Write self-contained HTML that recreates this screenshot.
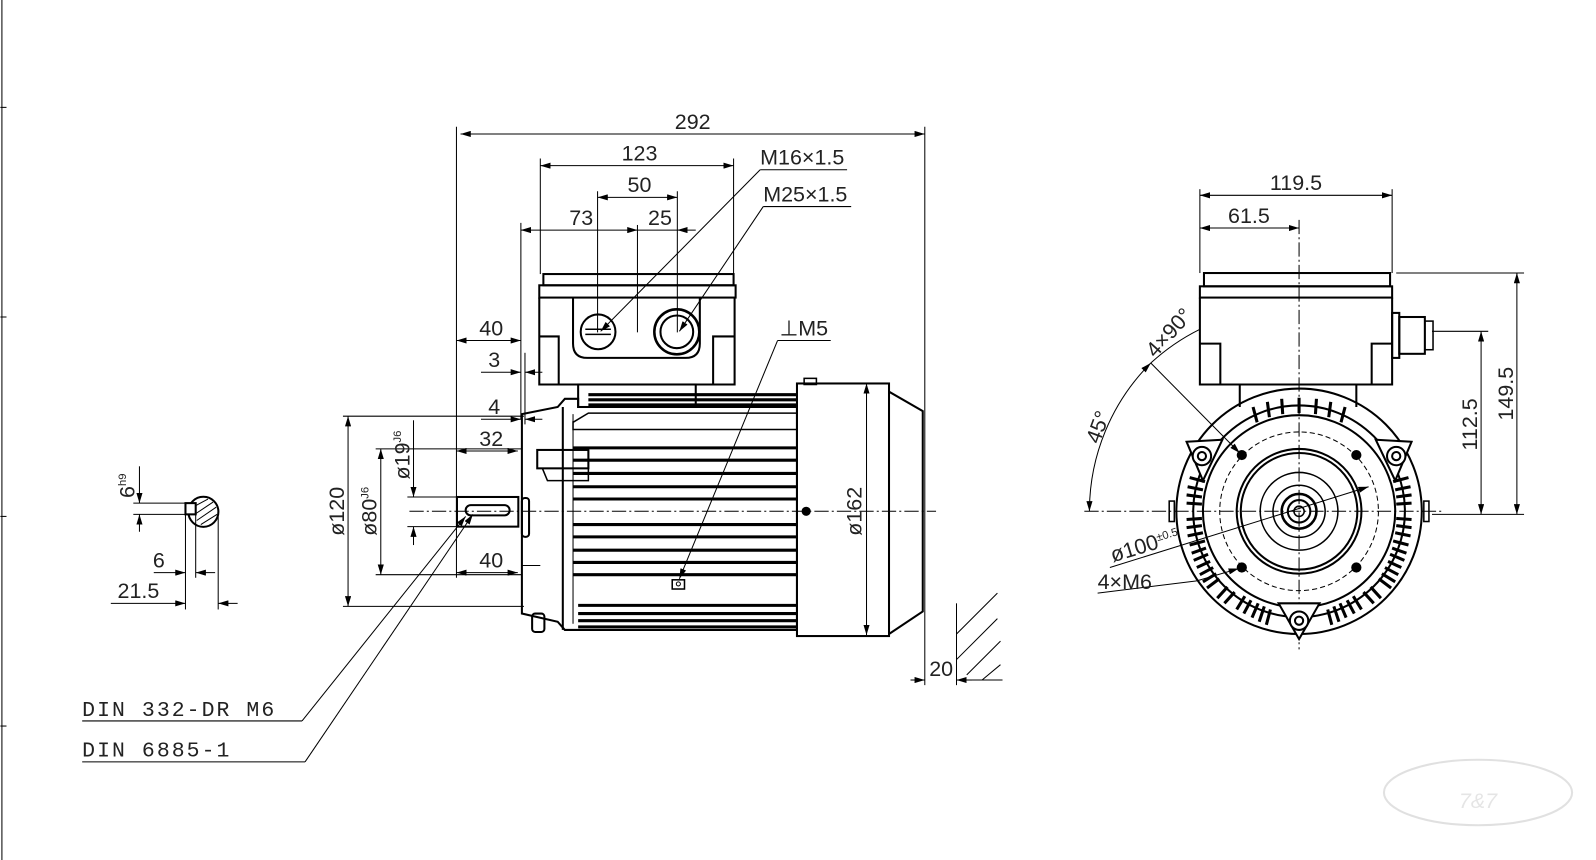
<!DOCTYPE html>
<html><head><meta charset="utf-8"><style>
html,body{margin:0;padding:0;background:#fff;}
svg{display:block}
text{font-family:"Liberation Sans",sans-serif;fill:#222;font-size:21px}
</style></head><body>
<svg width="1596" height="860" viewBox="0 0 1560 841" xmlns="http://www.w3.org/2000/svg">
<defs>
<marker id="a" viewBox="0 0 10 6" refX="10" refY="3" markerWidth="10" markerHeight="6" orient="auto-start-reverse" markerUnits="userSpaceOnUse"><path d="M0,0L10,3L0,6z" fill="#000"/></marker>
</defs>
<g stroke="#000" fill="none" stroke-width="1">
<line x1="1.5" y1="0" x2="1.5" y2="841"/>
<line x1="0" y1="105" x2="6" y2="105"/><line x1="0" y1="310" x2="6" y2="310"/><line x1="0" y1="505" x2="6" y2="505"/><line x1="0" y1="710" x2="6" y2="710"/>

<line x1="400" y1="500" x2="915" y2="500" stroke-dasharray="14,3,2,3"/>

<line x1="450" y1="131" x2="904" y2="131" marker-start="url(#a)" marker-end="url(#a)"/>
<line x1="446" y1="124" x2="446" y2="565"/>
<line x1="904" y1="124" x2="904" y2="670"/>
<line x1="528" y1="162" x2="717" y2="162" marker-start="url(#a)" marker-end="url(#a)"/>
<line x1="528" y1="155" x2="528" y2="268"/>
<line x1="717" y1="155" x2="717" y2="268"/>
<line x1="584" y1="193" x2="662" y2="193" marker-start="url(#a)" marker-end="url(#a)"/>
<line x1="584" y1="187" x2="584" y2="325"/>
<line x1="662" y1="187" x2="662" y2="325"/>
<line x1="509" y1="225" x2="623" y2="225" marker-start="url(#a)" marker-end="url(#a)"/>
<line x1="680" y1="225" x2="662" y2="225" marker-end="url(#a)"/>
<line x1="623" y1="225" x2="662" y2="225"/>
<line x1="509" y1="218" x2="509" y2="410"/>
<line x1="623" y1="220" x2="623" y2="325"/>
<line x1="743" y1="166" x2="828" y2="166"/>
<line x1="743" y1="166" x2="587" y2="324" marker-end="url(#a)"/>
<line x1="746" y1="202" x2="832" y2="202"/>
<line x1="746" y1="202" x2="664" y2="324" marker-end="url(#a)"/>

<rect x="531" y="268" width="186" height="11" stroke-width="2"/>
<rect x="527" y="279" width="192" height="12" stroke-width="2"/>
<path d="M527,291V376H718V291" stroke-width="2"/>
<path d="M527,329H546V376M718,329H697V376" stroke-width="2"/>
<path d="M560,291V336Q560,350 574,350H670Q684,350 684,336V291" stroke-width="2"/>
<circle cx="584.5" cy="324.5" r="17" stroke-width="2"/>
<path d="M572,322H597M572,327H597" stroke-width="1.5"/>
<circle cx="661.5" cy="324.5" r="22" stroke-width="2.5"/>
<circle cx="661.5" cy="324.5" r="16" stroke-width="2"/>
<rect x="565" y="376" width="115" height="22" stroke-width="2"/>

<line x1="446" y1="333" x2="509" y2="333" marker-start="url(#a)" marker-end="url(#a)"/>
<line x1="470" y1="364" x2="509" y2="364" marker-end="url(#a)"/>
<line x1="530" y1="364" x2="513" y2="364" marker-end="url(#a)"/>
<line x1="470" y1="410" x2="509" y2="410" marker-end="url(#a)"/>
<line x1="530" y1="410" x2="513" y2="410" marker-end="url(#a)"/>
<line x1="513" y1="345" x2="513" y2="415"/>

<path d="M510,405L545,398L552,390H565V398H779V616H552L545,608L510,600Z" stroke-width="2"/>
<line x1="550" y1="398" x2="550" y2="616" stroke-width="2"/>
<line x1="560" y1="405" x2="560" y2="610"/>
<g stroke-width="3">
<line x1="575" y1="386" x2="779" y2="386"/><line x1="575" y1="391" x2="779" y2="391"/><line x1="575" y1="396" x2="779" y2="396"/>
<line x1="560" y1="438" x2="779" y2="438"/><line x1="560" y1="450" x2="779" y2="450"/><line x1="560" y1="463" x2="779" y2="463"/>
<line x1="560" y1="476" x2="779" y2="476"/><line x1="560" y1="488" x2="779" y2="488"/><line x1="560" y1="513" x2="779" y2="513"/>
<line x1="560" y1="525" x2="779" y2="525"/><line x1="560" y1="538" x2="779" y2="538"/><line x1="560" y1="550" x2="779" y2="550"/>
<line x1="560" y1="562" x2="779" y2="562"/>
<line x1="565" y1="592" x2="779" y2="592"/><line x1="565" y1="600" x2="779" y2="600"/><line x1="565" y1="607" x2="779" y2="607"/><line x1="565" y1="613" x2="779" y2="613"/>
</g>
<path d="M560,413L575,404H779M560,412V420H779" stroke-width="1.5"/>
<rect x="525" y="440" width="50" height="18" stroke-width="2"/>
<path d="M530,458L535,470H575V440" stroke-width="1.5"/>
<rect x="510" y="487" width="7" height="38" rx="3" stroke-width="2"/>
<rect x="520" y="600" width="12" height="18" rx="3" stroke-width="2"/>
<circle cx="788" cy="500" r="4" fill="#000"/>
<rect x="779" y="375" width="90" height="247" stroke-width="2"/>
<rect x="786" y="370" width="12" height="6" stroke-width="1.5"/>
<path d="M869,383L902,402V598L869,620" stroke-width="2"/>
<line x1="847" y1="375" x2="847" y2="621" marker-start="url(#a)" marker-end="url(#a)"/>
<rect x="657" y="567" width="12" height="9" stroke-width="1.5"/>
<circle cx="663" cy="571" r="2"/>
<line x1="760" y1="333" x2="812" y2="333"/>
<line x1="760" y1="333" x2="664" y2="566" marker-end="url(#a)"/>

<rect x="446.5" y="486" width="60" height="29" stroke-width="2"/>
<rect x="455" y="494" width="43" height="10" rx="5" stroke-width="2"/>
<line x1="404" y1="411" x2="404" y2="486" marker-end="url(#a)"/>
<line x1="404" y1="533" x2="404" y2="515" marker-end="url(#a)"/>
<line x1="398" y1="486" x2="446" y2="486"/><line x1="398" y1="515" x2="446" y2="515"/>
<line x1="340" y1="407" x2="340" y2="593" marker-start="url(#a)" marker-end="url(#a)"/>
<line x1="335" y1="407" x2="512" y2="407"/><line x1="335" y1="593" x2="512" y2="593"/>
<line x1="372" y1="439" x2="372" y2="562" marker-start="url(#a)" marker-end="url(#a)"/>
<line x1="367" y1="439" x2="510" y2="439"/><line x1="367" y1="562" x2="510" y2="562"/>
<line x1="446" y1="441" x2="506" y2="441" marker-start="url(#a)" marker-end="url(#a)"/>
<line x1="446" y1="560" x2="506" y2="560" marker-start="url(#a)" marker-end="url(#a)"/>
<line x1="510" y1="553" x2="528" y2="553"/>

<line x1="80" y1="705" x2="295" y2="705"/><line x1="295" y1="705" x2="455" y2="505" marker-end="url(#a)"/>
<line x1="80" y1="745" x2="298" y2="745"/><line x1="298" y1="745" x2="462" y2="503" marker-end="url(#a)"/>

<circle cx="198.5" cy="500.5" r="14.7" stroke-width="2"/>
<g stroke-width="1">
<line x1="190" y1="495" x2="203" y2="488"/><line x1="190" y1="503" x2="208" y2="491"/><line x1="192" y1="509" x2="211" y2="496"/><line x1="196" y1="513" x2="212" y2="503"/>
</g>
<rect x="181" y="492" width="10" height="11" fill="#fff" stroke-width="2"/>
<line x1="136" y1="456" x2="136" y2="492" marker-end="url(#a)"/>
<line x1="136" y1="520" x2="136" y2="503" marker-end="url(#a)"/>
<line x1="130" y1="492" x2="181" y2="492"/><line x1="130" y1="503" x2="181" y2="503"/>
<line x1="181" y1="503" x2="181" y2="596"/><line x1="191" y1="503" x2="191" y2="565"/><line x1="213" y1="505" x2="213" y2="596"/>
<line x1="150" y1="560" x2="181" y2="560" marker-end="url(#a)"/>
<line x1="210" y1="560" x2="191" y2="560" marker-end="url(#a)"/>
<line x1="108" y1="590" x2="181" y2="590" marker-end="url(#a)"/>
<line x1="232" y1="590" x2="213" y2="590" marker-end="url(#a)"/>

<line x1="935" y1="590" x2="935" y2="670"/>
<line x1="890" y1="665" x2="904" y2="665" marker-end="url(#a)"/>
<line x1="950" y1="665" x2="935" y2="665" marker-end="url(#a)"/>
<line x1="935" y1="665" x2="980" y2="665"/>
<line x1="935" y1="620" x2="975" y2="580"/><line x1="935" y1="645" x2="975" y2="605"/><line x1="945" y1="660" x2="978" y2="627"/><line x1="960" y1="665" x2="978" y2="650"/>

<!-- RIGHT VIEW -->
<line x1="1060" y1="500" x2="1410" y2="500" stroke-dasharray="14,3,2,3"/>
<line x1="1270" y1="215" x2="1270" y2="635" stroke-dasharray="14,3,2,3"/>
<rect x="1177" y="267" width="182" height="13" stroke-width="2"/>
<rect x="1173" y="280" width="188" height="11" stroke-width="2"/>
<path d="M1173,291V376H1361V291" stroke-width="2"/>
<path d="M1173,336H1193V376M1361,336H1341V376" stroke-width="2"/>
<path d="M1212,376V398M1326,376V398" stroke-width="2"/>
<rect x="1361" y="306" width="7" height="44" stroke-width="2"/>
<rect x="1368" y="310" width="25" height="36" stroke-width="2"/>
<rect x="1393" y="314" width="8" height="28" stroke-width="1.5"/>
<circle cx="1270" cy="500" r="120" stroke-width="2"/>
<circle cx="1270" cy="500" r="103.5" stroke-width="2"/>
<circle cx="1270" cy="500" r="94" stroke-width="2"/>
<circle cx="1270" cy="500" r="77.6" stroke-dasharray="5,3"/>
<circle cx="1270" cy="500" r="61" stroke-width="2"/>
<circle cx="1270" cy="500" r="57" stroke-width="2"/>
<circle cx="1270" cy="500" r="38" stroke-width="1.5"/>
<circle cx="1270" cy="500" r="25.5" stroke-width="1.5"/>
<circle cx="1270" cy="500" r="17" stroke-width="2.5"/>
<circle cx="1270" cy="500" r="11" stroke-width="2"/>
<circle cx="1270" cy="500" r="5" stroke-width="1.5"/>
<rect x="1143" y="490" width="5" height="20" stroke-width="1.5"/>
<rect x="1392" y="490" width="5" height="20" stroke-width="1.5"/>
<g stroke-width="2">
<circle cx="1214" cy="445" r="4" fill="#000"/><circle cx="1326" cy="445" r="4" fill="#000"/>
<circle cx="1214" cy="555" r="4" fill="#000"/><circle cx="1326" cy="555" r="4" fill="#000"/>
</g>
<line x1="1173" y1="191" x2="1361" y2="191" marker-start="url(#a)" marker-end="url(#a)"/>
<line x1="1173" y1="185" x2="1173" y2="267"/><line x1="1361" y1="185" x2="1361" y2="267"/>
<line x1="1173" y1="223" x2="1270" y2="223" marker-start="url(#a)" marker-end="url(#a)"/>
<line x1="1365" y1="267" x2="1490" y2="267"/>
<line x1="1400" y1="324" x2="1455" y2="324"/>
<line x1="1400" y1="503" x2="1490" y2="503"/>
<line x1="1483" y1="267" x2="1483" y2="503" marker-start="url(#a)" marker-end="url(#a)"/>
<line x1="1448" y1="324" x2="1448" y2="503" marker-start="url(#a)" marker-end="url(#a)"/>
<path d="M1065,500A205,205 0 0 1 1125,355" marker-start="url(#a)" marker-end="url(#a)"/>
<path d="M1125,355A205,205 0 0 1 1173,322"/>
<line x1="1125" y1="355" x2="1212" y2="443" marker-end="url(#a)"/>
<line x1="1085" y1="555" x2="1338" y2="476" marker-end="url(#a)"/>
<line x1="1073" y1="580" x2="1170" y2="568"/>
<line x1="1170" y1="568" x2="1211" y2="556" marker-end="url(#a)"/>
</g>
<g stroke="#000" stroke-width="3">
<path d="M1225,398L1229,413 M1239,393L1241,408 M1253,390L1254,405 M1270,389V404 M1287,390L1286,405 M1301,393L1299,408 M1315,398L1311,413
M1163,467L1178,471 M1161,476L1176,479 M1160,484L1175,486 M1160,492L1175,493 M1160,508L1175,507 M1160,516L1175,514 M1161,524L1176,521 M1163,533L1178,529 M1165,541L1179,536 M1167,548L1181,542 M1170,555L1183,549 M1173,562L1186,555 M1176,569L1189,561 M1180,575L1192,566
M1377,467L1362,471 M1379,476L1364,479 M1380,484L1365,486 M1380,492L1365,493 M1380,508L1365,507 M1380,516L1365,514 M1379,524L1364,521 M1377,533L1362,529 M1375,541L1361,536 M1373,548L1359,542 M1370,555L1357,549 M1367,562L1354,555 M1364,569L1351,561 M1360,575L1348,566
M1224,604L1230,590 M1231,608L1236,593 M1238,611L1242,596 M1302,611L1298,596 M1309,608L1304,593 M1316,604L1310,590 M1209,596L1217,583 M1216,600L1223,587 M1331,596L1323,583 M1324,600L1317,587 M1190,585L1200,574 M1197,590L1207,579 M1350,585L1340,574 M1343,590L1333,579"/>
</g>
<g stroke="#000" stroke-width="2" fill="#fff">
<path d="M1160,432L1195,430L1176,470Z"/><circle cx="1175" cy="446" r="9"/><circle cx="1175" cy="446" r="4"/>
<path d="M1380,432L1345,430L1364,470Z"/><circle cx="1365" cy="446" r="9"/><circle cx="1365" cy="446" r="4"/>
<path d="M1250,590L1290,590L1270,625Z"/><circle cx="1270" cy="607" r="9"/><circle cx="1270" cy="607" r="4"/>
</g>
<g>
<text x="677" y="126" text-anchor="middle">292</text>
<text x="625" y="157" text-anchor="middle">123</text>
<text x="625" y="188" text-anchor="middle">50</text>
<text x="568" y="220" text-anchor="middle">73</text>
<text x="645" y="220" text-anchor="middle">25</text>
<text x="743" y="161">M16×1.5</text>
<text x="746" y="197">M25×1.5</text>
<text x="480" y="328" text-anchor="middle">40</text>
<text x="483" y="359" text-anchor="middle">3</text>
<text x="483" y="405" text-anchor="middle">4</text>
<text x="480" y="436" text-anchor="middle">32</text>
<text x="480" y="555" text-anchor="middle">40</text>
<text x="762" y="328">⊥M5</text>
<text transform="translate(842,500) rotate(-90)" text-anchor="middle">ø162</text>
<text transform="translate(336,500) rotate(-90)" text-anchor="middle">ø120</text>
<text transform="translate(368,500) rotate(-90)" text-anchor="middle">ø80<tspan font-size="11" dy="-8">J6</tspan></text>
<text transform="translate(400,445) rotate(-90)" text-anchor="middle">ø19<tspan font-size="11" dy="-8">J6</tspan></text>
<text transform="translate(131,475) rotate(-90)" text-anchor="middle">6<tspan font-size="11" dy="-8">h9</tspan></text>
<text x="155" y="555" text-anchor="middle">6</text>
<text x="135" y="585" text-anchor="middle">21.5</text>
<text x="80" y="700" style="font-family:'Liberation Mono',monospace;letter-spacing:2px">DIN 332-DR M6</text>
<text x="80" y="740" style="font-family:'Liberation Mono',monospace;letter-spacing:2px">DIN 6885-1</text>
<text x="920" y="661" text-anchor="middle">20</text>
<text x="1267" y="186" text-anchor="middle">119.5</text>
<text x="1221" y="218" text-anchor="middle">61.5</text>
<text transform="translate(1479,385) rotate(-90)" text-anchor="middle">149.5</text>
<text transform="translate(1444,415) rotate(-90)" text-anchor="middle">112.5</text>
<text transform="translate(1080,420) rotate(-70)" text-anchor="middle">45°</text>
<text transform="translate(1148,330) rotate(-48)" text-anchor="middle">4×90°</text>
<text transform="translate(1088,550) rotate(-17)">ø100<tspan font-size="11" dy="-7">±0.5</tspan></text>
<text x="1073" y="576">4×M6</text>
</g>
<g opacity="0.25">
<ellipse cx="1445" cy="775" rx="92" ry="32" fill="none" stroke="#888" stroke-width="2"/>
<text x="1445" y="790" text-anchor="middle" font-size="40" font-style="italic" style="fill:#999">7&amp;7</text>
</g>
</svg>
</body></html>
